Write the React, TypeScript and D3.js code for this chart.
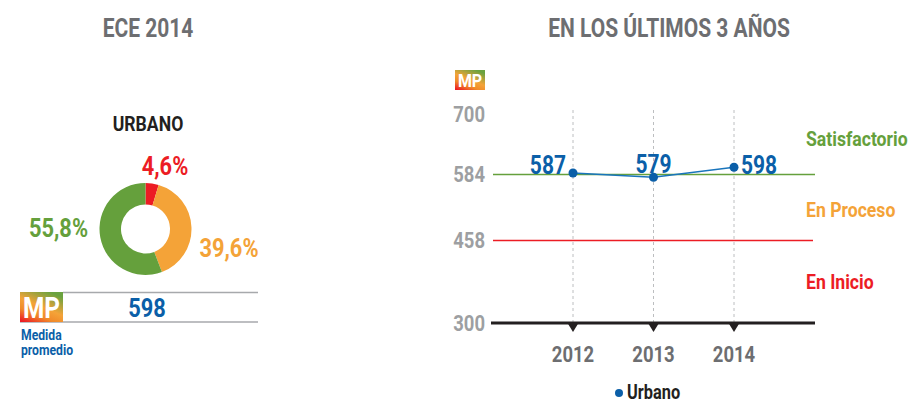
import React from "react";
import * as d3 from "d3";

const donutLabels = ["En Inicio", "En Proceso", "Satisfactorio"];
const donutValues = [4.6, 39.6, 55.8];
const donutText = ["4,6%", "39,6%", "55,8%"];
const mediaPromedio = 598;

const years = ["2012", "2013", "2014"];
const urbano = [587, 579, 598];
const yTicks = [300, 458, 584, 700];
const bands = [
  { name: "Satisfactorio", value: 584 },
  { name: "En Proceso", value: 458 },
  { name: "En Inicio", value: 300 },
];

const GREEN = "#65a03c";
const ORANGE = "#f4a338";
const RED = "#ec1c24";
const BLUE = "#0b5fa8";
const LINEBLUE = "#1a75bc";
const GREY = "#6d6e71";
const LGREY = "#9d9fa2";
const DARK = "#231f20";
const FONT = "Roboto, 'Liberation Sans', Arial, sans-serif";
const SX = 0.84;
const colors = [RED, ORANGE, GREEN];

function T({ x, y, size, fill, anchor = "start", children }: any) {
  return (
    <text
      transform={`translate(${x},${y}) scale(${SX},1)`}
      textAnchor={anchor}
      fontSize={size}
      fontWeight="bold"
      fill={fill}
      fontFamily={FONT}
    >
      {children}
    </text>
  );
}

function MPBox({ x, y, w, h, fs }: { x: number; y: number; w: number; h: number; fs: number }) {
  return (
    <g>
      <rect x={x} y={y} width={w} height={h} fill="url(#mpgrad)" />
      <T x={x + w / 2} y={y + h * 0.86} anchor="middle" fill="#fff" size={fs}>MP</T>
    </g>
  );
}

export default function App() {
  const cx = 145.5, cy = 229;
  const pie = d3.pie<number>().sort(null).value((d) => d)(donutValues);
  const arc = d3.arc<d3.PieArcDatum<number>>().innerRadius(24.5).outerRadius(46);

  const x = d3.scalePoint<string>().domain(years).range([573, 734]);
  const y = d3.scaleLinear().domain([300, 700]).range([323, 114]);
  const line = d3.line<number>().x((_, i) => x(years[i])!).y((d) => y(d));

  const bandLabelY = [146, 217, 289];
  const bandColors = [GREEN, ORANGE, RED];

  return (
    <svg width={910} height={403} style={{ position: "absolute", left: 0, top: 0 }} fontFamily={FONT}>
      <defs>
        <linearGradient id="mpgrad" x1="0.7" y1="0" x2="0.1" y2="1">
          <stop offset="0" stopColor="#6aa23f" />
          <stop offset="0.45" stopColor="#f4a338" />
          <stop offset="0.7" stopColor="#f08a2a" />
          <stop offset="1" stopColor="#ec1c24" />
        </linearGradient>
      </defs>
      <rect width={910} height={403} fill="#fff" />

      {/* Left panel */}
      <T x={148} y={37} anchor="middle" size={25} fill={GREY}>ECE 2014</T>
      <T x={148} y={131} anchor="middle" size={21} fill={DARK}>URBANO</T>
      <g transform={`translate(${cx},${cy})`}>
        {pie.map((p, i) => (
          <path key={donutLabels[i]} d={arc(p)!} fill={colors[i]} />
        ))}
      </g>
      <T x={165} y={175} anchor="middle" size={26} fill={RED}>{donutText[0]}</T>
      <T x={229} y={257} anchor="middle" size={26} fill={ORANGE}>{donutText[1]}</T>
      <T x={58.5} y={237} anchor="middle" size={26} fill={GREEN}>{donutText[2]}</T>

      <line x1={63} x2={258} y1={292.5} y2={292.5} stroke="#a7a9ac" strokeWidth={1.5} />
      <line x1={20} x2={258} y1={322} y2={322} stroke="#a7a9ac" strokeWidth={1.5} />
      <MPBox x={20} y={292} w={43} h={30} fs={29} />
      <T x={147} y={317} anchor="middle" size={26} fill={BLUE}>{mediaPromedio}</T>
      <T x={21} y={340} size={14.5} fill={BLUE}>Medida</T>
      <T x={21} y={355} size={14.5} fill={BLUE}>promedio</T>

      {/* Right panel */}
      <T x={669} y={37} anchor="middle" size={25} fill={GREY}>EN LOS ÚLTIMOS 3 AÑOS</T>
      <MPBox x={455} y={70} w={30} h={20} fs={19} />

      {years.map((yr) => (
        <line key={yr} x1={x(yr)} x2={x(yr)} y1={110} y2={323} stroke="#bcbec0" strokeDasharray="3,3" strokeWidth={1} />
      ))}
      {yTicks.map((t) => (
        <T key={t} x={485} y={y(t) + 7.5} anchor="end" size={22} fill={LGREY}>{t}</T>
      ))}
      <line x1={493} x2={815} y1={y(584)} y2={y(584)} stroke={GREEN} strokeWidth={1.5} />
      <line x1={493} x2={813} y1={y(458)} y2={y(458)} stroke={RED} strokeWidth={1.5} />
      <line x1={491} x2={815} y1={y(300)} y2={y(300)} stroke={DARK} strokeWidth={3} />
      {years.map((yr) => (
        <path key={yr} d={`M${x(yr)! - 5.5},${y(300)} L${x(yr)! + 5.5},${y(300)} L${x(yr)},${y(300) + 9} Z`} fill={DARK} />
      ))}
      {years.map((yr) => (
        <T key={yr} x={x(yr)} y={362} anchor="middle" size={22} fill={GREY}>{yr}</T>
      ))}
      {bands.map((b, i) => (
        <T key={b.name} x={806} y={bandLabelY[i]} size={21} fill={bandColors[i]}>{b.name}</T>
      ))}

      <path d={line(urbano)!} fill="none" stroke={LINEBLUE} strokeWidth={1.5} />
      {urbano.map((v, i) => (
        <circle key={i} cx={x(years[i])} cy={y(v)} r={4.5} fill={BLUE} />
      ))}
      <T x={x(years[0])! - 7} y={y(urbano[0]) + 1} anchor="end" size={25} fill={BLUE}>{urbano[0]}</T>
      <T x={x(years[1])} y={y(urbano[1]) - 4} anchor="middle" size={25} fill={BLUE}>{urbano[1]}</T>
      <T x={x(years[2])! + 7} y={y(urbano[2]) + 7} size={25} fill={BLUE}>{urbano[2]}</T>

      <circle cx={619} cy={393} r={4} fill={BLUE} />
      <T x={627} y={399} size={19.5} fill={DARK}>Urbano</T>
    </svg>
  );
}
